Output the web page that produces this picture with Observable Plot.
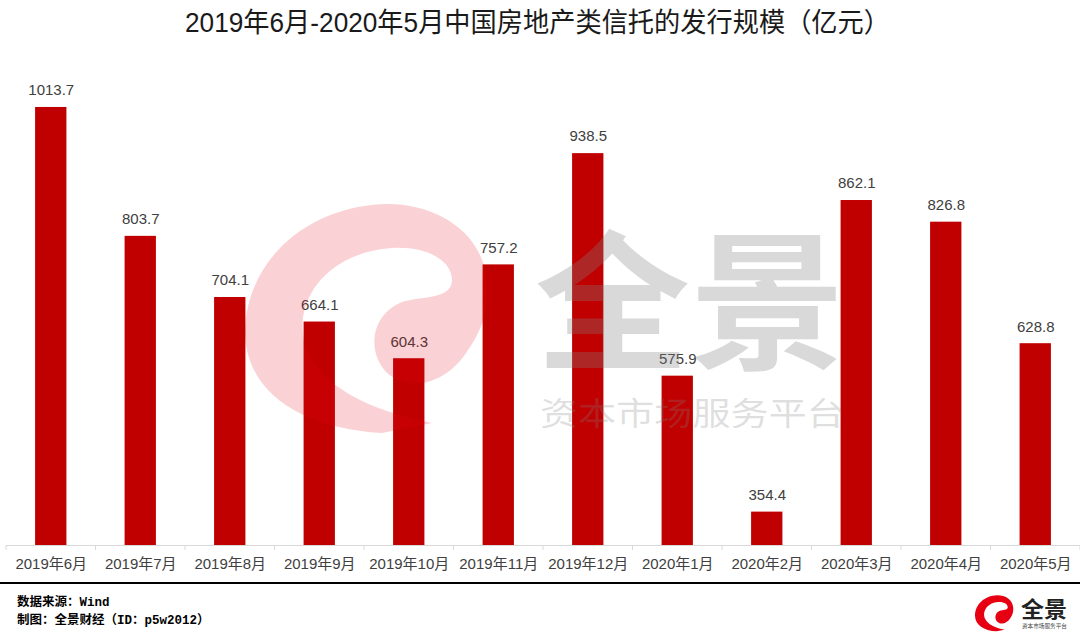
<!DOCTYPE html>
<html>
<head>
<meta charset="utf-8">
<script src="https://cdn.jsdelivr.net/npm/d3@7"></script>
<script src="https://cdn.jsdelivr.net/npm/@observablehq/plot@0.6"></script>
<style>
  html, body { margin: 0; padding: 0; background: #fff; }
  #page { position: relative; width: 1080px; height: 636px; overflow: hidden; background: #fff; }
  #page svg { position: absolute; left: 0; }
  .foot { position: absolute; left: 17px; font-family: "Liberation Mono", "Noto Sans CJK SC", monospace; font-weight: bold; font-size: 12.5px; color: #000; line-height: 18px; }
  #rule { position: absolute; left: 0; top: 582px; width: 1080px; height: 0; border-top: 2px solid #000; }
</style>
</head>
<body>
<div id="page">
  <svg id="titlesvg" width="1080" height="50" style="top:0">
    <text x="185" y="32" textLength="705" lengthAdjust="spacingAndGlyphs"
      font-family="Liberation Sans, Noto Sans CJK SC, sans-serif" font-size="27" fill="#1a1a1a">2019年6月-2020年5月中国房地产类信托的发行规模（亿元）</text>
  </svg>
  <div id="rule"></div>
  <div class="foot" style="top:594px">数据来源：Wind</div>
  <div class="foot" style="top:612px">制图：全景财经（ID：p5w2012）</div>
</div>
<script>
const months = ["2019年6月","2019年7月","2019年8月","2019年9月","2019年10月","2019年11月","2019年12月","2020年1月","2020年2月","2020年3月","2020年4月","2020年5月"];
const values = [1013.7, 803.7, 704.1, 664.1, 604.3, 757.2, 938.5, 575.9, 354.4, 862.1, 826.8, 628.8];
const yDomain = [300, 1100];

const data = months.map((m, i) => ({month: m, value: values[i]}));
const padInner = 0.65;

function boundaryTicks(index, scales, vals, dims) {
  const x = scales.x;
  const step = x(months[1]) - x(months[0]);
  const bw = step * (1 - padInner);
  const gap = (step - bw) / 2;
  const xs = months.map(m => x(m) - gap);
  xs.push(x(months[months.length - 1]) + bw + gap);
  const yb = scales.y(yDomain[0]);
  const g = d3.create("svg:g");
  g.selectAll("line").data(xs).join("line")
    .attr("x1", d => d).attr("x2", d => d)
    .attr("y1", yb).attr("y2", yb + 5)
    .attr("stroke", "#d9d9d9").attr("stroke-width", 1);
  return g.node();
}

const chart = Plot.plot({
  width: 1080,
  height: 533,
  marginTop: 4,
  marginBottom: 38,
  marginLeft: 6,
  marginRight: 0,
  x: {domain: months, paddingInner: padInner, paddingOuter: padInner / 2, round: false, axis: null, label: null},
  y: {domain: yDomain, axis: null},
  style: {fontFamily: "Liberation Sans, Noto Sans CJK SC, sans-serif", fontSize: "15px", color: "#404040", background: "transparent", overflow: "visible"},
  marks: [
    Plot.barY(data, {x: "month", y1: yDomain[0], y2: "value", fill: "#C00000"}),
    Plot.ruleY([yDomain[0]], {stroke: "#d9d9d9", strokeWidth: 1}),
    boundaryTicks,
    Plot.axisX({tickSize: 0, tickPadding: 13, fontSize: 15, fill: "#404040", label: null}),
    Plot.text(data, {x: "month", y: "value", text: d => d.value.toFixed(1), dy: -17, fill: "#404040", fontSize: 15})
  ]
});
chart.style.top = "50px";
const page = document.getElementById("page");
page.appendChild(chart);

// watermark overlay + footer logo (decoration)
const swirl = "M 487 283 C 484 232 436 203 385 204 C 305 207 246 262 245 332 C 246 392 300 428 382 433 L 432 423 C 380 412 322 392 305 345 C 292 298 330 252 392 248 C 430 246 452 262 452 280 C 452 300 420 296 402 302 C 372 314 366 350 386 372 C 412 396 450 380 468 350 C 484 328 489 305 487 283 Z";
const wm = d3.create("svg").attr("width", 1080).attr("height", 636).style("top", "0px").style("pointer-events", "none");
wm.append("path").attr("d", swirl).attr("fill", "#e60012").attr("fill-opacity", 0.18);
wm.append("text").attr("x", 535).attr("y", 358).attr("textLength", 310).attr("lengthAdjust", "spacingAndGlyphs")
  .attr("font-family", "Noto Sans CJK SC").attr("font-weight", "bold").attr("font-size", 150)
  .attr("fill", "#808080").attr("fill-opacity", 0.3).text("全景");
wm.append("text").attr("x", 540).attr("y", 425).attr("textLength", 305).attr("lengthAdjust", "spacingAndGlyphs")
  .attr("font-family", "Noto Sans CJK SC").attr("font-size", 32)
  .attr("fill", "#808080").attr("fill-opacity", 0.25).text("资本市场服务平台");
// footer logo
wm.append("path").attr("d", swirl).attr("fill", "#e60012")
  .attr("transform", "translate(975,595) scale(0.158) translate(-245,-203)");
wm.append("text").attr("x", 1021).attr("y", 617).attr("textLength", 46).attr("lengthAdjust", "spacingAndGlyphs")
  .attr("font-family", "Noto Sans CJK SC").attr("font-weight", "bold").attr("font-size", 22)
  .attr("fill", "#222").text("全景");
wm.append("text").attr("x", 1022).attr("y", 628).attr("textLength", 45).attr("lengthAdjust", "spacingAndGlyphs")
  .attr("font-family", "Noto Sans CJK SC").attr("font-size", 5.5)
  .attr("fill", "#444").text("资本市场服务平台");
page.appendChild(wm.node());
</script>
</body>
</html>
